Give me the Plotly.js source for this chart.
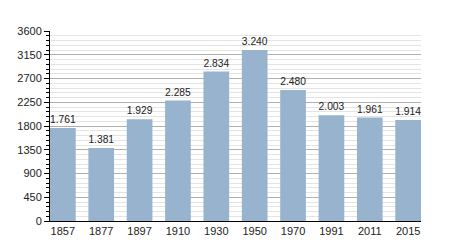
<!DOCTYPE html>
<html><head><meta charset="utf-8">
<script src="https://cdn.plot.ly/plotly-3.0.1.min.js"></script>
<style>html,body{margin:0;padding:0;background:#fff}#c{width:450px;height:250px}</style>
</head><body><div id="c"></div>
<script>
const years = ["1857","1877","1897","1910","1930","1950","1970","1991","2011","2015"];
const population = [1761,1381,1929,2285,2834,3240,2480,2003,1961,1914];
const labels = ["1.761","1.381","1.929","2.285","2.834","3.240","2.480","2.003","1.961","1.914"];

const trace = {
  type: 'bar', x: years, y: population,
  text: labels, textposition: 'outside', cliponaxis: false,
  textfont: {family: 'Liberation Sans, Arial, sans-serif', size: 11, color: '#222'},
  marker: {color: '#98b3cd', line: {width: 0}},
  width: 0.67, hoverinfo: 'none'
};
const layout = {
  width: 450, height: 250,
  margin: {l: 50, r: 29, t: 31, b: 29},
  paper_bgcolor: '#fff', plot_bgcolor: '#fff',
  showlegend: false,
  font: {family: 'Liberation Sans, Arial, sans-serif', size: 11, color: '#222'},
  xaxis: {type: 'category', range: [-0.335, 9.335], showline: true, linecolor: '#000', linewidth: 1,
          ticks: '', showgrid: false, tickfont: {size: 11}},
  yaxis: {range: [0, 3600], dtick: 450, tick0: 0, showline: true, linecolor: '#000', linewidth: 1,
          ticks: 'outside', ticklen: 5, tickcolor: '#000', gridcolor: '#b0b0b0', gridwidth: 1,
          zeroline: false, tickfont: {size: 11},
          minor: {dtick: 90, tick0: 0, showgrid: true, gridcolor: '#e4e4e4', gridwidth: 1,
                  ticks: 'outside', ticklen: 3, tickcolor: '#000'}}
};
Plotly.newPlot('c', [trace], layout, {staticPlot: true, displayModeBar: false});
</script></body></html>
